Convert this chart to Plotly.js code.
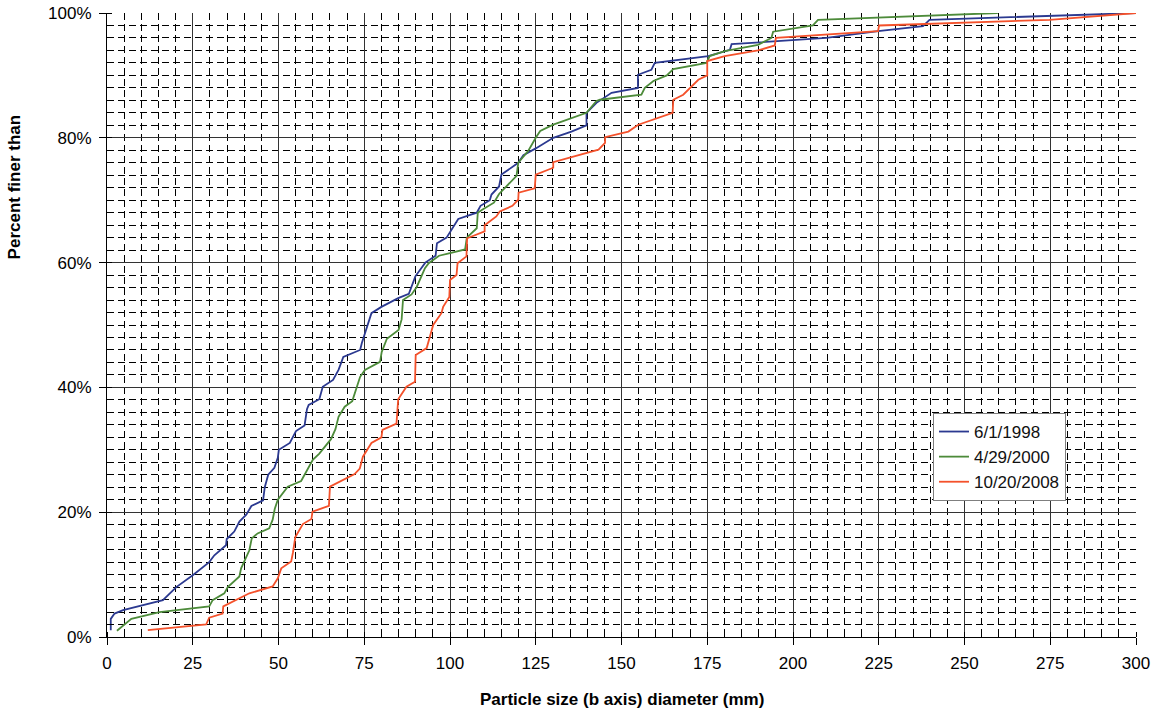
<!DOCTYPE html>
<html>
<head>
<meta charset="utf-8">
<script src="https://cdn.plot.ly/plotly-3.0.1.min.js"></script>
<style>
  html, body { margin: 0; padding: 0; background: #fff; }
  #chart { width: 1157px; height: 721px; }
</style>
</head>
<body>
<div id="chart"></div>
<script>
// Series names
const seriesNames = ["6/1/1998", "4/29/2000", "10/20/2008"];

// 6/1/1998
const size1998 = [1.1, 1.1, 2.2, 4.7, 16.3, 17.2, 20.2, 25, 29.8, 31.3, 34.7, 34.9, 37.1, 38.6, 40.6, 42.1, 45.5, 46, 47, 48.8, 49.8, 50.1, 53.3, 55.1, 57.6, 58.3, 58.8, 61.9, 62.9, 65.9, 67.5, 68.9, 73.8, 74.3, 75.2, 77.1, 80, 84.9, 88, 89.9, 92.8, 95.8, 96.2, 99, 102.4, 107.8, 108.9, 111.6, 112.1, 114.3, 115, 119.9, 121.4, 125, 130.1, 135.4, 139.8, 139.8, 142.7, 147.1, 154.8, 154.8, 158.7, 159.7, 175.3, 181.6, 182.1, 190.3, 200, 209.7, 224.8, 237.9, 239.8, 300];
const pct1998 = [1.1, 2.9, 3.75, 4.3, 5.9, 6.4, 8, 9.9, 12, 13.1, 14.7, 15.7, 16.9, 18.5, 19.6, 21, 21.9, 24, 26, 27.1, 28.7, 30, 31.1, 33, 33.9, 36.5, 37.2, 38.1, 40.1, 41.2, 42.8, 44.9, 46, 47.1, 48.7, 51.9, 52.9, 54.3, 55, 57.8, 60, 61.1, 63.1, 64, 67, 68, 69.1, 70, 70.9, 72.2, 74.1, 76, 77.2, 78.3, 80, 81, 82, 84, 85.6, 87.2, 88, 90.1, 90.9, 92, 93.1, 94.1, 95, 95.3, 95.7, 96, 97.1, 97.9, 98.9, 100];

// 4/29/2000
const size2000 = [2.9, 7.1, 15.3, 29.8, 30.8, 34.2, 35.2, 38.6, 39.1, 40, 41.5, 42.2, 43.9, 47.3, 48.3, 48.9, 49.8, 52.7, 56.6, 60, 61.9, 65.3, 66.6, 67.5, 69.3, 71.5, 72.7, 73.8, 75.2, 79.6, 80.1, 81.6, 85, 85.9, 86.3, 88.8, 90.3, 92.7, 93.8, 96.8, 104.4, 104.9, 107.8, 108.1, 109.5, 112.8, 114.3, 119.4, 119.9, 122.8, 125, 126.3, 130.1, 139.8, 142.7, 143.7, 155.8, 156.8, 159.3, 163.2, 165.1, 174.8, 175.7, 180.1, 189.8, 193.7, 194.2, 205.8, 207.3, 238.8, 259.7];
const pct2000 = [1.0, 2.9, 4, 4.9, 5.9, 7, 8, 9.7, 11, 12.1, 13.9, 15.8, 16.6, 17.4, 18.8, 20.5, 22, 24.1, 25, 28.4, 29.4, 31.7, 33.3, 35.3, 36.9, 37.8, 40, 41.7, 42.8, 44.1, 45.7, 47.8, 49.2, 50.9, 54, 54.9, 56.1, 59.1, 59.9, 61.1, 62.1, 64, 65.5, 68, 68.5, 69.6, 71, 73.9, 76, 77.9, 80, 81.1, 82.1, 84, 85.9, 86.1, 86.9, 88, 89.1, 90, 91, 92, 93.1, 93.9, 94.9, 96, 97, 98, 98.9, 99.6, 100];

// 10/20/2008
const size2008 = [11.9, 28.9, 29.8, 33.7, 33.9, 41.5, 48.3, 49.8, 50.8, 53.7, 54.2, 54.9, 57.1, 59.6, 59.9, 64.7, 65, 72.2, 73.7, 74.6, 77.1, 80, 80.3, 84.4, 84.9, 87.3, 89.8, 90, 93.2, 95.1, 97.5, 98, 99.8, 100, 101.9, 102.2, 104.8, 105, 110.1, 110.1, 113.5, 114.5, 118.2, 119.9, 120, 124.7, 125, 130.1, 130.1, 143.3, 145.2, 145.2, 152, 154.9, 164.9, 165.1, 168, 172.4, 175, 175, 180.1, 189.8, 194.7, 195, 224.8, 225.1, 274.8, 300];
const pct2008 = [1.1, 2.0, 3.1, 3.75, 4.9, 7, 8.1, 9.4, 11, 12.1, 13.5, 16, 18.1, 18.9, 20.1, 21, 24.1, 26.1, 27, 28.9, 31.1, 32, 33.2, 34.2, 38.1, 40.1, 40.9, 45.2, 46.3, 50, 51.9, 52.9, 54.5, 57.2, 58, 59.9, 61, 63.9, 65, 66, 67.4, 68.2, 69.1, 70.1, 71.2, 71.9, 74.1, 75.2, 76.1, 78.1, 79.2, 80.1, 81, 82.1, 84, 86.1, 86.9, 89.3, 90, 92.3, 93.1, 94, 94.8, 96, 97.1, 98, 98.9, 100];

// Axis ticks
const xTicks = [0, 25, 50, 75, 100, 125, 150, 175, 200, 225, 250, 275, 300];
const yTicks = [0, 20, 40, 60, 80, 100];
const yTickLabels = ["0%", "20%", "40%", "60%", "80%", "100%"];

const xTitle = "Particle size (b axis) diameter (mm)";
const yTitle = "Percent finer than";

const colors = ["#2B3990", "#4D8B3A", "#F4512B"];
const FONT = "Liberation Sans, Arial, sans-serif";

const traces = [
  { x: size1998, y: pct1998, name: seriesNames[0] },
  { x: size2000, y: pct2000, name: seriesNames[1] },
  { x: size2008, y: pct2008, name: seriesNames[2] }
].map((t, i) => Object.assign(t, {
  type: "scatter", mode: "lines",
  line: { color: colors[i], width: 1.8 },
  hoverinfo: "skip"
}));

const axisCommon = {
  showline: true, linecolor: "#000", linewidth: 1,
  showgrid: true, gridcolor: "#333", gridwidth: 1,
  zeroline: false,
  ticks: "outside", ticklen: 7, tickcolor: "#000", tickwidth: 1,
  tickfont: { family: FONT, size: 17, color: "#000" },
  fixedrange: true
};

const layout = {
  width: 1157, height: 721,
  margin: { l: 107, r: 21, t: 13, b: 84 },
  paper_bgcolor: "#fff", plot_bgcolor: "#fff",
  showlegend: true,
  legend: {
    x: 0.8027, y: 0.359, xanchor: "left", yanchor: "top",
    bgcolor: "#fff", bordercolor: "#7f7f7f", borderwidth: 1,
    font: { family: FONT, size: 17, color: "#111" },
    tracegroupgap: 0
  },
  xaxis: Object.assign({}, axisCommon, {
    range: [0, 300], tickvals: xTicks, ticktext: xTicks.map(String),
    ticklabelstandoff: 4,
    minor: { dtick: 5, showgrid: true, gridcolor: "#000", gridwidth: 1, griddash: "7px,4px",
             ticks: "inside", ticklen: 5, tickcolor: "#000" }
  }),
  yaxis: Object.assign({}, axisCommon, {
    range: [0, 100], tickvals: yTicks, ticktext: yTickLabels,
    ticklabelstandoff: 4,
    minor: { dtick: 2, showgrid: true, gridcolor: "#000", gridwidth: 1, griddash: "7px,4px",
             ticks: "inside", ticklen: 5, tickcolor: "#000" }
  }),
  annotations: [
    { text: "<b>" + xTitle + "</b>", xref: "paper", yref: "paper", x: 0.5, y: -0.0994,
      xanchor: "center", yanchor: "middle", showarrow: false,
      font: { family: FONT, size: 17, color: "#000" } },
    { text: "<b>" + yTitle + "</b>", xref: "paper", yref: "paper", x: -0.0898, y: 0.7215,
      xanchor: "center", yanchor: "middle", textangle: -90, showarrow: false,
      font: { family: FONT, size: 17, color: "#000" } }
  ]
};

Plotly.newPlot("chart", traces, layout, { displayModeBar: false, staticPlot: true });
</script>
</body>
</html>
